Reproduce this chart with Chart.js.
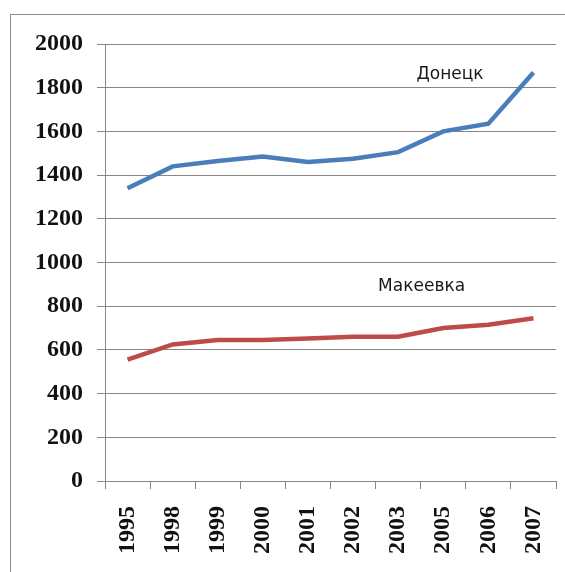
<!DOCTYPE html>
<html><head><meta charset="utf-8">
<script src="https://cdn.jsdelivr.net/npm/chart.js@4/dist/chart.umd.min.js"></script>
<style>
html,body{margin:0;padding:0;background:#fff;}
#wrap{position:absolute;left:0;top:0;width:565px;height:572px;overflow:hidden;}
#frame{position:absolute;left:10px;top:14px;width:600px;height:600px;border-left:1px solid #8c8c8c;border-top:1px solid #8c8c8c;box-sizing:border-box;}
canvas{position:absolute;left:0;top:0;}
</style></head>
<body>
<div id="wrap"><div id="frame"></div><canvas id="c" width="565" height="572"></canvas></div>
<script>
const years = ['1995','1998','1999','2000','2001','2002','2003','2005','2006','2007'];
const donetsk = [1340,1440,1465,1485,1460,1475,1505,1600,1635,1870];
const makeevka = [555,625,645,645,652,660,660,700,715,745];
const seriesNames = ['Донецк','Макеевка'];
const labelIdx = [7.15, 6.52];
const labelVal = [1860, 890];

const labelPlugin = {
  id:'seriesLabels',
  afterDatasetsDraw(chart){
    const ctx = chart.ctx, xs = chart.scales.x, ys = chart.scales.y;
    ctx.save();
    ctx.fillStyle = '#1a1a1a';
    ctx.font = '17px "DejaVu Sans"';
    ctx.textAlign = 'center';
    ctx.textBaseline = 'middle';
    seriesNames.forEach((n,i)=>{
      ctx.fillText(n, xs.getPixelForValue(labelIdx[i]), ys.getPixelForValue(labelVal[i]));
    });
    ctx.restore();
  }
};

const tickFont = {family:'"Liberation Serif"', size:24, weight:'bold'};

new Chart(document.getElementById('c'), {
  type:'line',
  data:{labels:years, datasets:[
    {label:seriesNames[0], data:donetsk, borderColor:'#4a7ebb', borderWidth:4.5, pointRadius:0, tension:0, fill:false},
    {label:seriesNames[1], data:makeevka, borderColor:'#be4b48', borderWidth:4.5, pointRadius:0, tension:0, fill:false}
  ]},
  options:{
    responsive:false, animation:false,
    layout:{padding:{top:44,right:9,left:0,bottom:0}},
    plugins:{legend:{display:false}, tooltip:{enabled:false}},
    scales:{
      x:{
        offset:true,
        grid:{drawOnChartArea:false, drawTicks:true, tickLength:8, color:'#868686', offset:true},
        border:{color:'#868686', width:1},
        ticks:{autoSkip:false, minRotation:90, maxRotation:90, color:'#111', padding:17, font:tickFont},
        afterFit(s){ s.height = 91; s.paddingRight = 0; }
      },
      y:{
        min:0, max:2000,
        ticks:{stepSize:200, color:'#111', padding:14, font:tickFont, callback:(v)=>String(v)},
        grid:{color:'#868686', tickLength:8, lineWidth:1},
        border:{color:'#868686', width:1},
        afterFit(s){ s.width = 105; }
      }
    }
  },
  plugins:[labelPlugin]
});
</script>
</body></html>
